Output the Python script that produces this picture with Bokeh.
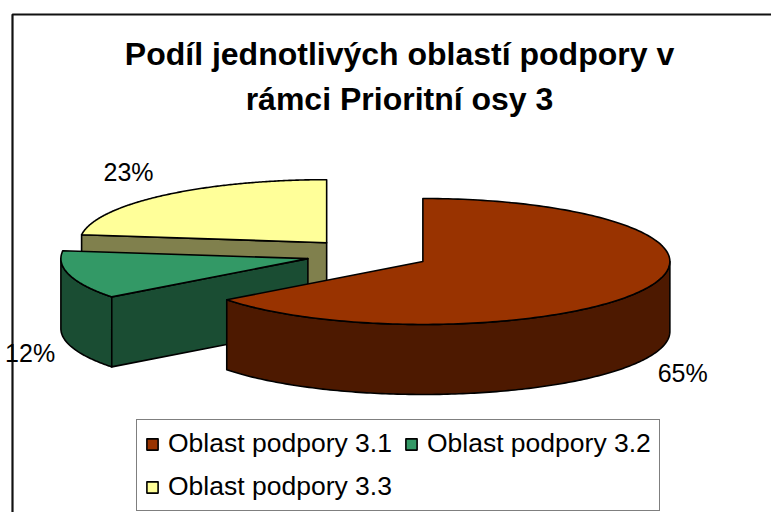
import numpy as np
from bokeh.plotting import figure
from bokeh.models import Range1d, ColumnDataSource, Legend, LegendItem
from bokeh.embed import file_html
from bokeh.resources import INLINE
from bokeh.core.properties import value

# ---------------- data ----------------
title_lines = ["Podíl jednotlivých oblastí podpory v", "rámci Prioritní osy 3"]
categories = ["Oblast podpory 3.1", "Oblast podpory 3.2", "Oblast podpory 3.3"]
shares = [64.6, 12.4, 23.0]
pct_labels = ["65%", "12%", "23%"]
top_colors = ["#993300", "#339966", "#FFFF99"]
side_colors = ["#4D1900", "#1A4D33", "#80804D"]

# ---------------- layout / geometry constants ----------------
W, H = 771, 512
CX, CY = 367.0, 254.0      # pie centre (px)
A, B = 247.0, 63.0         # ellipse semi axes of top face
DEPTH = 70.0               # pie thickness
EXPLODE = 0.25             # explosion as fraction of radius
LABEL_R = 1.06
LABEL_DY = 27.0
FONT = "Liberation Sans"

p = figure(width=W, height=H, x_range=Range1d(0, W), y_range=Range1d(H, 0),
           output_backend="svg", toolbar_location=None,
           x_axis_type=None, y_axis_type=None,
           min_border=0, min_border_left=0, min_border_right=0,
           min_border_top=0, min_border_bottom=0)
p.grid.visible = False
p.outline_line_color = None
p.background_fill_color = "white"
p.border_fill_color = "white"

# chart-area border (left and top edges visible)
p.line(x=[12, 12, 900], y=[700, 14, 14], line_color="#111111", line_width=2.2)

# ---------------- pie geometry from data ----------------
total = float(sum(shares))
angles = []
start = 90.0
for v in shares:
    sweep = 360.0 * v / total
    angles.append((start - sweep, start))
    start = start - sweep


def pt(cx, cy, th_deg, z):
    t = np.radians(th_deg)
    return cx + A * np.cos(t), cy - B * np.sin(t) + z


slice_info = []
for i, (ts, te) in enumerate(angles):
    mid = np.radians((ts + te) / 2.0)
    ox = CX + EXPLODE * A * np.cos(mid)
    oy = CY - EXPLODE * B * np.sin(mid)
    slice_info.append((i, ts, te, ox, oy, mid))

# back to front
order = sorted(slice_info, key=lambda s: s[4])

side_xs, side_ys, side_fc = [], [], []
top_xs, top_ys, top_fc, top_idx = [], [], [], []

for (i, ts, te, ox, oy, mid) in order:
    # outer wall (front half only: -180..0)
    lo, hi = max(ts, -180.0), min(te, 0.0)
    if lo < hi:
        th = np.linspace(lo, hi, 160)
        xt, yt = pt(ox, oy, th, 0.0)
        xb, yb = pt(ox, oy, th[::-1], DEPTH)
        side_xs.append(list(np.concatenate([xt, xb])))
        side_ys.append(list(np.concatenate([yt, yb])))
        side_fc.append(side_colors[i])
    # radial cut faces
    for th_edge, visible in ((ts, np.cos(np.radians(ts)) > 1e-6),
                             (te, np.cos(np.radians(te)) < -1e-6)):
        if visible:
            ex, ey = pt(ox, oy, th_edge, 0.0)
            side_xs.append([ox, ex, ex, ox])
            side_ys.append([oy, ey, ey + DEPTH, oy + DEPTH])
            side_fc.append(side_colors[i])
    # top face
    th = np.linspace(ts, te, 200)
    xt, yt = pt(ox, oy, th, 0.0)
    top_xs.append([ox] + list(xt))
    top_ys.append([oy] + list(yt))
    top_fc.append(top_colors[i])
    top_idx.append(i)

side_src = ColumnDataSource(dict(xs=side_xs, ys=side_ys, fc=side_fc))
top_src = ColumnDataSource(dict(xs=top_xs, ys=top_ys, fc=top_fc,
                                cat=[categories[k] for k in top_idx]))

p.patches("xs", "ys", source=side_src, fill_color="fc", line_color="black",
          line_width=1.6, line_join="round")
tops = p.patches("xs", "ys", source=top_src, fill_color="fc", line_color="black",
                 line_width=1.6, line_join="round")

# ---------------- data labels ----------------
groups = {"left": ([], [], []), "right": ([], [], [])}
for (i, ts, te, ox, oy, mid) in slice_info:
    s, c = np.sin(mid), np.cos(mid)
    x = ox + LABEL_R * A * c
    y = oy - LABEL_R * B * s + (DEPTH if s < 0 else 0.0) - LABEL_DY * s
    g = groups["left" if c > 0 else "right"]
    g[0].append(x)
    g[1].append(y)
    g[2].append(pct_labels[i])
for align, (gx, gy, gt) in groups.items():
    if gx:
        p.text(x=gx, y=gy, text=gt, text_font=value(FONT), text_font_size="25px",
               text_align=align, text_baseline="middle", text_color="black")

# ---------------- title ----------------
p.text(x=[399, 399], y=[53, 98.5], text=title_lines, text_font=value(FONT),
       text_font_size="32px", text_font_style="bold", text_align="center",
       text_baseline="middle", text_color="black")

# ---------------- legend ----------------
items = [LegendItem(label=categories[k], renderers=[tops], index=top_idx.index(k))
         for k in range(len(categories))]
legend = Legend(items=items, ncols=2, orientation="horizontal",
                location=(136, H - 511),
                label_text_font=FONT, label_text_font_size="26.5px",
                label_text_color="black",
                glyph_width=14, glyph_height=14, label_standoff=9,
                label_height=31, spacing=12, padding=8, margin=0,
                border_line_color="black", border_line_width=1,
                background_fill_color="white", background_fill_alpha=1.0)
p.add_layout(legend, "center")

open("out.html", "w").write(file_html(p, INLINE))
